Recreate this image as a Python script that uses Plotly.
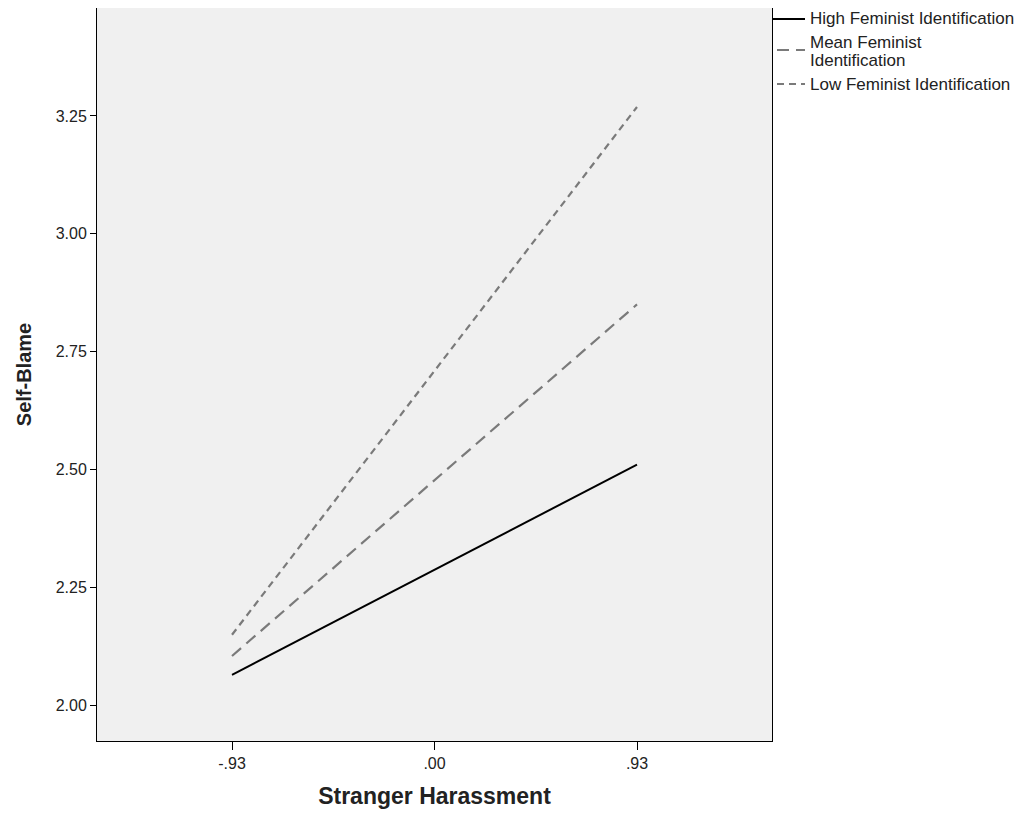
import plotly.graph_objects as go

x_vals = [-0.93, 0.93]
high_fem = [2.064, 2.51]
mean_fem = [2.104, 2.85]
low_fem = [2.149, 3.269]
x_ticks = [-0.93, 0.0, 0.93]
x_tick_labels = ["-.93", ".00", ".93"]
y_ticks = [2.0, 2.25, 2.5, 2.75, 3.0, 3.25]
y_tick_labels = ["2.00", "2.25", "2.50", "2.75", "3.00", "3.25"]
series_names = ["High Feminist Identification", "Mean Feminist Identification", "Low Feminist Identification"]

# plot-area geometry in page pixels (page has an 8px body margin)
L, R, T, B = 97, 772, 8, 741
PW, PH = R - L, B - T


def px_x(X):
    return (X - L) / PW


def px_y(Y):
    return (B - Y) / PH


colors = ["#000000", "#7a7a7a", "#7a7a7a"]
dashes = ["solid", "12px,7px", "7px,5px"]
widths = [2, 2.2, 2.2]

fig = go.Figure()
for name, ys, c, d, w in zip(series_names, [high_fem, mean_fem, low_fem], colors, dashes, widths):
    fig.add_trace(go.Scatter(x=x_vals, y=ys, mode="lines", name=name,
                             line=dict(color=c, width=w, dash=d), showlegend=False))

# manual legend (SPSS style, tight line spacing)
leg_font = dict(family="Liberation Sans, Arial, sans-serif", size=17, color="#222")
legend_rows = [
    (19, [(19, "High Feminist Identification")]),
    (50, [(43, "Mean Feminist"), (60, "Identification")]),
    (84, [(84, "Low Feminist Identification")]),
]
for i, (ly, texts) in enumerate(legend_rows):
    x0 = 772 if i == 0 else 777
    fig.add_shape(type="line", xref="paper", yref="paper",
                  x0=px_x(x0), x1=px_x(805), y0=px_y(ly), y1=px_y(ly),
                  line=dict(color=colors[i], width=widths[i], dash=dashes[i]))
    for ty, t in texts:
        fig.add_annotation(xref="paper", yref="paper", x=px_x(808), y=px_y(ty), text=t,
                           showarrow=False, xanchor="left", yanchor="middle", font=leg_font)

fig.update_layout(
    width=1019, height=815,
    margin=dict(l=89, r=255, t=0, b=82),
    paper_bgcolor="white", plot_bgcolor="#f0f0f0",
    font=dict(family="Liberation Sans, Arial, sans-serif", size=16, color="#222"),
    showlegend=False,
    xaxis=dict(range=[-1.55, 1.55], tickvals=x_ticks, ticktext=x_tick_labels,
               showgrid=False, zeroline=False, showline=True, linecolor="#000", linewidth=1,
               mirror=True, ticks="outside", ticklen=8, tickcolor="#000",
               title=dict(text="<b>Stranger Harassment</b>", font=dict(size=23, color="#222"), standoff=16)),
    yaxis=dict(range=[1.9236, 3.479], tickvals=y_ticks, ticktext=y_tick_labels,
               showgrid=False, zeroline=False, showline=True, linecolor="#000", linewidth=1,
               mirror=True, ticks="outside", ticklen=6, tickcolor="#000",
               title=dict(text="<b>Self-Blame</b>", font=dict(size=20, color="#222"), standoff=18)),
)
fig.write_html("out.html")
